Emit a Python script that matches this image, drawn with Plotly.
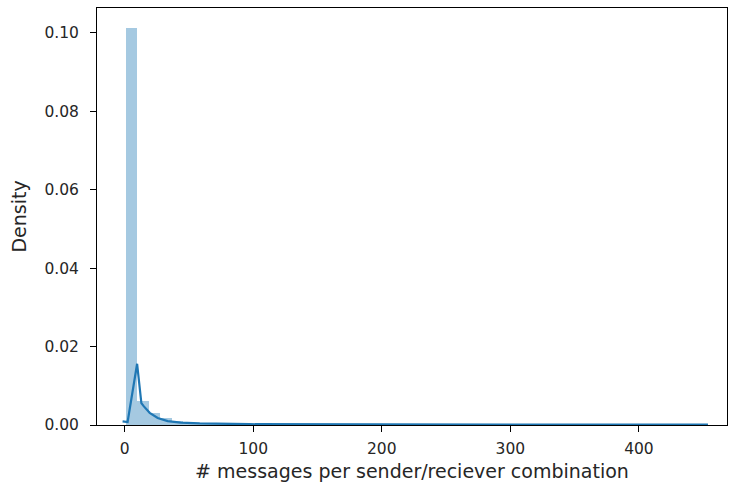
import plotly.graph_objects as go

# Histogram (density) of messages per sender/receiver combination
bin_start = 1.0
bin_width = 8.88
hist_density = [
    0.1012, 0.0062, 0.0030, 0.0017, 0.0010, 0.0007, 0.0005, 0.0004, 0.0003, 0.00025,
    0.0002, 0.00015, 0.00012, 0.0001, 0.00008, 0.00007, 0.00006, 0.00005, 0.00004, 0.00004,
    0.00003, 0.00003, 0.00003, 0.00002, 0.00002, 0.00002, 0.00002, 0.00002, 0.00001, 0.00001,
    0.00001, 0.00001, 0.00001, 0.00001, 0.00001, 0.00001, 0.00001, 0.00001, 0.00001, 0.00001,
    0.00001, 0.00001, 0.00001, 0.00001, 0.00001, 0.00001, 0.00001, 0.00001, 0.00001, 0.00003,
]

# KDE curve
kde_x = [-1.6, 2.3, 9.7, 13.0, 14.8, 19.5, 25.7, 29.6, 33.5, 43.6, 58.4, 97.0, 214.0, 453.7]
kde_y = [0.00094, 0.00077, 0.0156, 0.0056, 0.0048, 0.0031, 0.0018, 0.0014, 0.0010,
         0.0006, 0.0004, 0.0002, 0.0001, 0.00008]

x_ticks = [0, 100, 200, 300, 400]
y_ticks = [0.00, 0.02, 0.04, 0.06, 0.08, 0.10]

bar_centers = [bin_start + bin_width * (i + 0.5) for i in range(len(hist_density))]

fig = go.Figure()
fig.add_trace(go.Bar(
    x=bar_centers, y=hist_density, width=bin_width,
    marker=dict(color="rgba(31,119,180,0.4)", line=dict(width=0)),
    showlegend=False, hoverinfo="skip",
))
fig.add_trace(go.Scatter(
    x=kde_x, y=kde_y, mode="lines",
    line=dict(color="#1f77b4", width=2.2),
    showlegend=False,
))

font = dict(family="DejaVu Sans", size=15.5, color="#262626")
fig.update_layout(
    width=730, height=491,
    margin=dict(l=97, r=3, t=8, b=66),
    paper_bgcolor="white", plot_bgcolor="white",
    bargap=0, font=font,
)
fig.update_xaxes(
    range=[-21.5, 468.5], tickvals=x_ticks, ticktext=[str(v) for v in x_ticks],
    showgrid=False, zeroline=False,
    showline=True, linecolor="black", linewidth=1, mirror=True,
    ticks="outside", ticklen=6, tickcolor="black", tickwidth=1,
    ticklabelstandoff=3,
    title=dict(text="# messages per sender/reciever combination", standoff=8),
    automargin=False,
)
fig.update_yaxes(
    range=[0, 0.1063], tickvals=y_ticks, ticktext=[f"{v:.2f}" for v in y_ticks],
    showgrid=False, zeroline=False,
    showline=True, linecolor="black", linewidth=1, mirror=True,
    ticks="outside", ticklen=6, tickcolor="black", tickwidth=1,
    ticklabelstandoff=8,
    title=dict(text="Density", standoff=12),
    automargin=False,
)
fig.write_html("out.html")
